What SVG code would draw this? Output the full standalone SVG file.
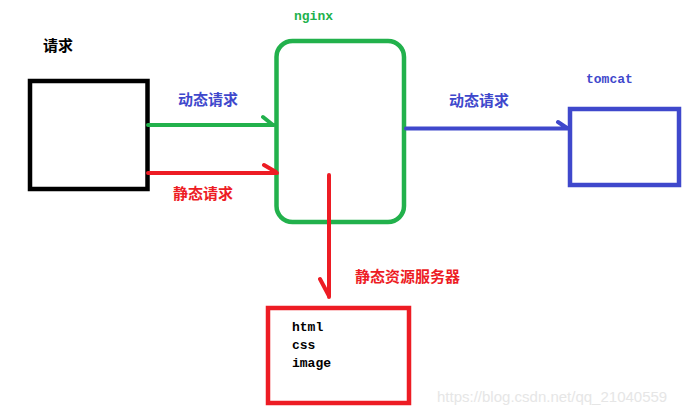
<svg xmlns="http://www.w3.org/2000/svg" width="689" height="415" viewBox="0 0 689 415">
<style>
.box{fill:#fff;stroke-width:4.5}
.cjk{font-family:"Noto Sans CJK SC","Noto Sans",sans-serif;font-size:15px;font-weight:bold}
.mono{font-family:"Liberation Mono","DejaVu Sans Mono",monospace;font-size:13px;font-weight:bold}
.ln{fill:none;stroke-width:4;stroke-linecap:round;stroke-linejoin:round}
</style>
<rect width="689" height="415" fill="#fff"/>
<g id="client">
<rect class="box" x="30" y="81" width="117.5" height="108" stroke="#000"/>
<text class="cjk" x="43" y="51" fill="#000">请求</text>
</g>
<g id="nginx">
<rect class="box" x="276.5" y="41" width="127.5" height="181" rx="16" stroke="#22b14c"/>
<text class="mono" x="294" y="20" fill="#22b14c">nginx</text>
</g>
<g id="tomcat">
<rect class="box" x="570" y="109" width="109" height="76" stroke="#3f48cc"/>
<text class="mono" x="586" y="83" fill="#3f48cc">tomcat</text>
</g>
<g id="static-server">
<rect class="box" x="268" y="308" width="141" height="95" stroke="#ed1c24"/>
<text class="cjk" x="355" y="282" fill="#ed1c24">静态资源服务器</text>
<text class="mono" x="292" y="331" fill="#000">html</text>
<text class="mono" x="292" y="349" fill="#000">css</text>
<text class="mono" x="292" y="367" fill="#000">image</text>
</g>
<g id="connectors">
<path class="ln" d="M148 125 H274 M263 117 L273 125" stroke="#22b14c"/>
<text class="cjk" x="178" y="105" fill="#3f48cc">动态请求</text>
<path class="ln" d="M148 173 H277 M264 165 L276 172" stroke="#ed1c24"/>
<text class="cjk" x="173" y="199" fill="#ed1c24">静态请求</text>
<path class="ln" d="M406 128.5 H568 M558 122 L567 128" stroke="#3f48cc"/>
<text class="cjk" x="449" y="106" fill="#3f48cc">动态请求</text>
<path class="ln" d="M329 175 V297 M320 279 L329 296" stroke="#ed1c24"/>
</g>
<text x="437" y="402" font-family="Liberation Sans, Arial, sans-serif" font-size="15" fill="#e6e6e6">https://blog.csdn.net/qq_21040559</text>
</svg>
